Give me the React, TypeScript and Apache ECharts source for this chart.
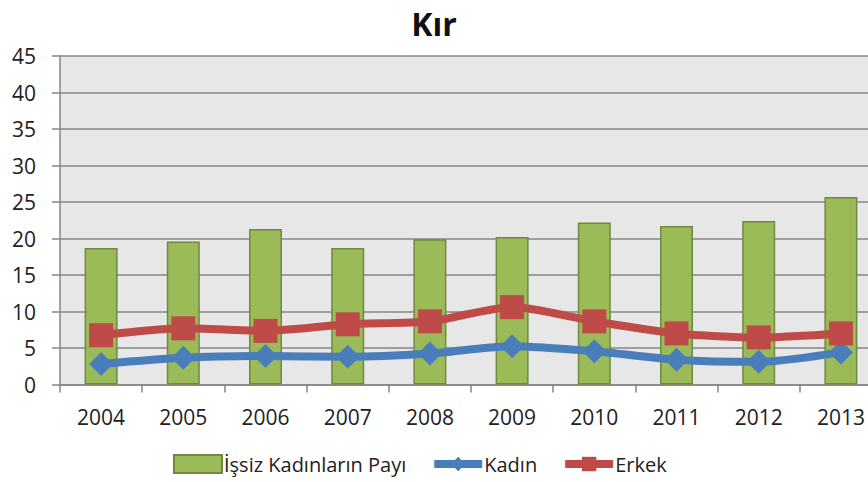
import React, { useEffect, useRef } from "react";
import * as echarts from "echarts";

const years = ["2004", "2005", "2006", "2007", "2008", "2009", "2010", "2011", "2012", "2013"];
const issizKadinPayi = [18.7, 19.6, 21.3, 18.7, 19.9, 20.2, 22.2, 21.7, 22.4, 25.7];
const kadin = [2.8, 3.65, 3.9, 3.8, 4.25, 5.25, 4.55, 3.4, 3.1, 4.4];
const erkek = [6.75, 7.7, 7.35, 8.25, 8.65, 10.6, 8.65, 7.0, 6.45, 7.0];

const FONT = "'Open Sans', 'Noto Sans', sans-serif";

export default function App() {
  const ref = useRef<HTMLDivElement>(null);
  useEffect(() => {
    if (!ref.current) return;
    const chart = echarts.init(ref.current, undefined, { renderer: "svg" });
    chart.setOption({
      animation: false,
      backgroundColor: "#ffffff",
      title: {
        text: "Kır",
        left: "center",
        top: 2,
        textStyle: { fontFamily: FONT, fontSize: 32, fontWeight: "bold", color: "#111" },
      },
      legend: {
        bottom: 3,
        left: 168,
        itemGap: 24,
        itemWidth: 48,
        itemHeight: 18,
        textStyle: { fontFamily: FONT, fontSize: 20, color: "#222", padding: [0, 0, 0, -3] },
        data: [
          { name: "İşsiz Kadınların Payı", icon: "rect" },
          { name: "Kadın", lineStyle: { width: 8 } },
          { name: "Erkek", lineStyle: { width: 8 } },
        ],
      },
      grid: {
        left: 60,
        top: 56,
        width: 822,
        height: 328.5,
        show: true,
        backgroundColor: "#E7E7E7",
        borderWidth: 0,
        containLabel: false,
        outerBoundsMode: "none",
      },
      xAxis: {
        type: "category",
        data: years,
        boundaryGap: true,
        axisLine: { lineStyle: { color: "#868686", width: 1.5 } },
        axisTick: { show: true, length: 8, alignWithLabel: false, lineStyle: { color: "#868686", width: 1.5 } },
        axisLabel: { fontFamily: FONT, fontSize: 21, color: "#222", margin: 22 },
      },
      yAxis: {
        type: "value",
        min: 0,
        max: 45,
        interval: 5,
        axisLine: { show: true, lineStyle: { color: "#868686", width: 1.5 } },
        axisTick: { show: true, length: 8, lineStyle: { color: "#868686", width: 1.5 } },
        axisLabel: { fontFamily: FONT, fontSize: 21, color: "#222", margin: 24 },
        splitLine: { show: true, lineStyle: { color: "#868686", width: 1.5 } },
      },
      series: [
        {
          name: "İşsiz Kadınların Payı",
          type: "bar",
          data: issizKadinPayi,
          barWidth: 33,
          itemStyle: { color: "#9BBB59", borderColor: "#71893F", borderWidth: 1.5 },
        },
        {
          name: "Kadın",
          type: "line",
          data: kadin,
          smooth: 0.25,
          symbol: "diamond",
          symbolSize: 24,
          lineStyle: { color: "#4A7EBB", width: 8 },
          itemStyle: { color: "#4A7EBB" },
        },
        {
          name: "Erkek",
          type: "line",
          data: erkek,
          smooth: 0.25,
          symbol: "rect",
          symbolSize: 24,
          lineStyle: { color: "#BE4B48", width: 8 },
          itemStyle: { color: "#BE4B48" },
        },
      ],
    });
    return () => chart.dispose();
  }, []);
  return (
    <div
      ref={ref}
      style={{ position: "fixed", left: 0, top: 0, width: 868, height: 482, overflow: "hidden" }}
    />
  );
}
